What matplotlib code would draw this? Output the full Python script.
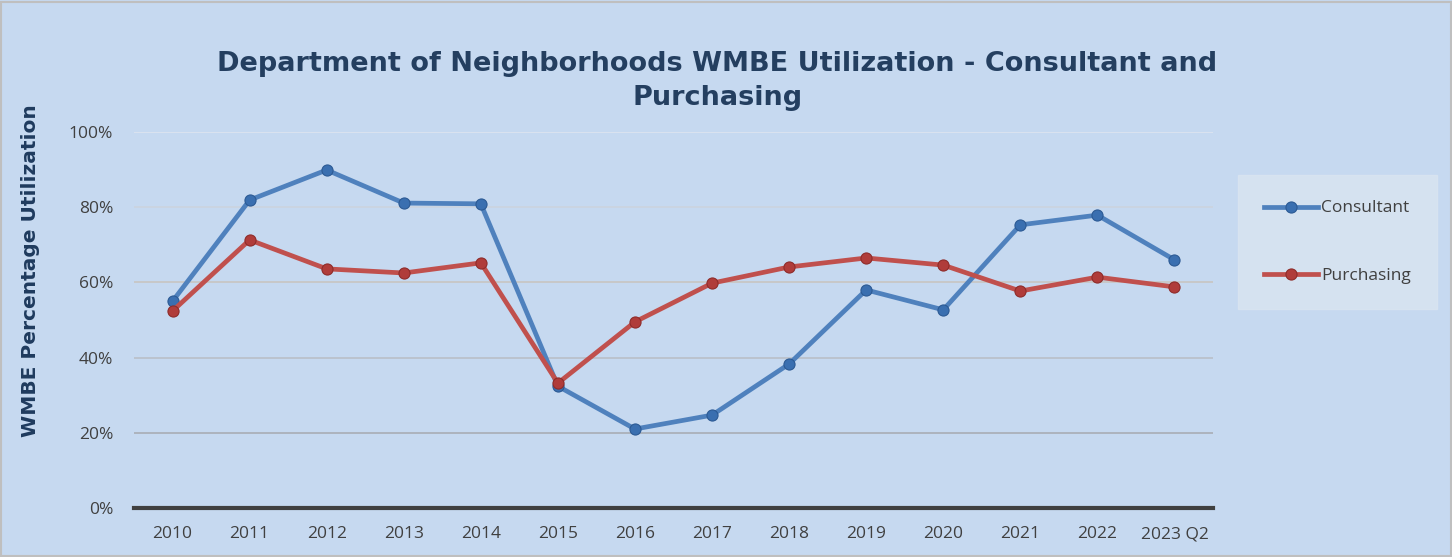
import matplotlib
matplotlib.use("Agg")
import matplotlib.pyplot as plt
import numpy as np

years = ['2010', '2011', '2012', '2013', '2014', '2015', '2016', '2017',
         '2018', '2019', '2020', '2021', '2022', '2023 Q2']
consultant = [55.0, 81.9, 89.9, 81.1, 80.9, 32.4, 21.0, 24.7, 38.3, 58.0, 52.7, 75.3, 77.9, 66.0]
purchasing = [52.4, 71.3, 63.6, 62.5, 65.2, 33.2, 49.5, 59.8, 64.1, 66.5, 64.6, 57.7, 61.4, 58.8]
yticks = [0, 20, 40, 60, 80, 100]

bg = '#c6d9f0'
fig = plt.figure(figsize=(14.52, 5.57), dpi=100, facecolor=bg)
ax = fig.add_axes([0.0923, 0.088, 0.7431, 0.675])
ax.set_facecolor(bg)

x = np.arange(len(years))
ax.plot(x, consultant, color='#4f81bd', lw=3.4, marker='o', ms=8,
        mfc='#3a6fb0', mec='#2c5a94', mew=0.8, label='Consultant', zorder=3)
ax.plot(x, purchasing, color='#c0504d', lw=3.4, marker='o', ms=8,
        mfc='#b03c3a', mec='#8e2c2a', mew=0.8, label='Purchasing', zorder=3)

ax.set_xlim(-0.5, len(years) - 0.5)
ax.set_ylim(0, 100)
ax.set_yticks(yticks)
ax.set_yticklabels([f'{v}%' for v in yticks])
ax.set_xticks(x)
ax.set_xticklabels(years)
ax.tick_params(length=0, labelsize=12.5, colors='#404040')
ax.tick_params(axis='x', pad=13)
ax.tick_params(axis='y', pad=15)
for lab in ax.get_xticklabels() + ax.get_yticklabels():
    lab.set_fontfamily('Open Sans')

# gridlines fade from grey at the bottom to almost white at the top
grid_cols = {20: '#a8adb5', 40: '#b9bfc8', 60: '#c8c5c2', 80: '#cbd4df', 100: '#dde5ef'}
for v, c in grid_cols.items():
    ax.axhline(v, color=c, lw=1.2, zorder=1)

for s in ['top', 'right', 'left']:
    ax.spines[s].set_visible(False)
ax.spines['bottom'].set_color('#404040')
ax.spines['bottom'].set_linewidth(3)

ax.set_ylabel('WMBE Percentage Utilization', fontsize=14.5, fontweight='heavy',
              color='#1f3b5e')
ax.yaxis.set_label_coords(-0.087, 0.63)

fig.text(0.494, 0.855, 'Department of Neighborhoods WMBE Utilization - Consultant and\nPurchasing',
         ha='center', va='center', fontsize=19.5, fontweight='heavy', color='#243f60',
         linespacing=1.38)

leg = ax.legend(loc='upper left', bbox_to_anchor=(1.0235, 0.886), frameon=True,
                fontsize=11.5, labelspacing=3.2, handlelength=3.4, borderpad=1.6,
                handletextpad=0.2, borderaxespad=0)
leg.get_frame().set_facecolor('#dae5f1')
leg.get_frame().set_edgecolor('#dae5f1')
leg.get_frame().set_boxstyle('square', pad=0)
for t in leg.get_texts():
    t.set_color('#404040')
    t.set_fontfamily('Open Sans')
    t.set_fontsize(12.5)

fig.patches.append(plt.Rectangle((0.001, 0.001), 0.998, 0.996, transform=fig.transFigure,
                                 fill=False, edgecolor='#bfbfbf', lw=1.5))

fig.savefig('out.png', dpi=100, facecolor=bg)
